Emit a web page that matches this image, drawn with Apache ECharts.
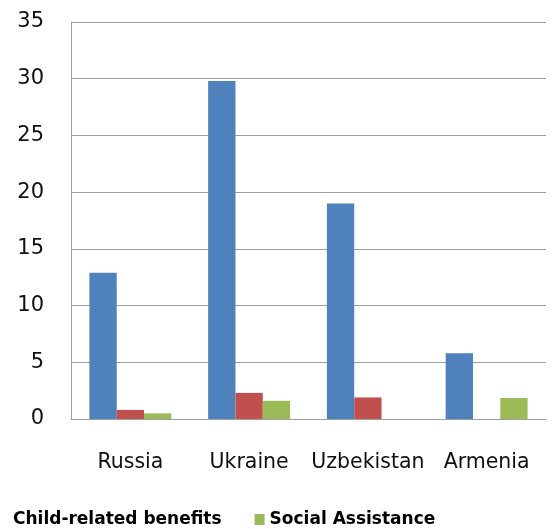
<!DOCTYPE html>
<html><head><meta charset="utf-8">
<script src="https://cdn.jsdelivr.net/npm/echarts@6/dist/echarts.min.js"></script>
<style>html,body{margin:0;padding:0;background:#fff}#c{width:553px;height:529px}</style>
</head><body><div id="c"></div>
<script>
const categories = ['Russia', 'Ukraine', 'Uzbekistan', 'Armenia'];
const totalValues = [12.9, 29.8, 19.0, 5.8];
const childValues = [0.8, 2.3, 1.9, null];
const socialValues = [0.5, 1.6, null, 1.85];
const yTicks = [0, 5, 10, 15, 20, 25, 30, 35];

const chart = echarts.init(document.getElementById('c'));
chart.setOption({
  animation: false,
  backgroundColor: '#ffffff',
  textStyle: { fontFamily: 'DejaVu Sans' },
  grid: { left: 71, right: 7, top: 22, bottom: 110, containLabel: false },
  legend: {
    left: -2, top: 511, padding: 0,
    itemWidth: 10, itemHeight: 11, itemGap: 33,
    textStyle: { fontFamily: 'DejaVu Sans', fontWeight: 'bold', fontSize: 17, color: '#000' },
    data: [
      { name: 'Child-related benefits', icon: 'none' },
      { name: 'Social Assistance', icon: 'rect' }
    ]
  },
  xAxis: {
    type: 'category',
    data: categories,
    axisLine: { show: true, lineStyle: { color: '#a0a0a0', width: 1 } },
    axisTick: { show: false },
    axisLabel: { interval: 0, fontSize: 20.5, color: '#111', margin: 33, fontFamily: 'DejaVu Sans' }
  },
  yAxis: {
    type: 'value',
    min: yTicks[0], max: yTicks[yTicks.length - 1], interval: 5,
    axisLine: { show: true, lineStyle: { color: '#a0a0a0', width: 1 } },
    axisTick: { show: false },
    splitLine: { show: true, lineStyle: { color: '#a0a0a0', width: 1 } },
    axisLabel: { fontSize: 21, color: '#111', margin: 27, fontFamily: 'DejaVu Sans' }
  },
  series: [
    { name: 'Total', type: 'bar', data: totalValues, itemStyle: { color: '#4F81BD' }, barGap: '0%', barCategoryGap: '31%' },
    { name: 'Child-related benefits', type: 'bar', data: childValues, itemStyle: { color: '#C0504D' } },
    { name: 'Social Assistance', type: 'bar', data: socialValues, itemStyle: { color: '#9BBB59' } }
  ]
});
</script></body></html>
